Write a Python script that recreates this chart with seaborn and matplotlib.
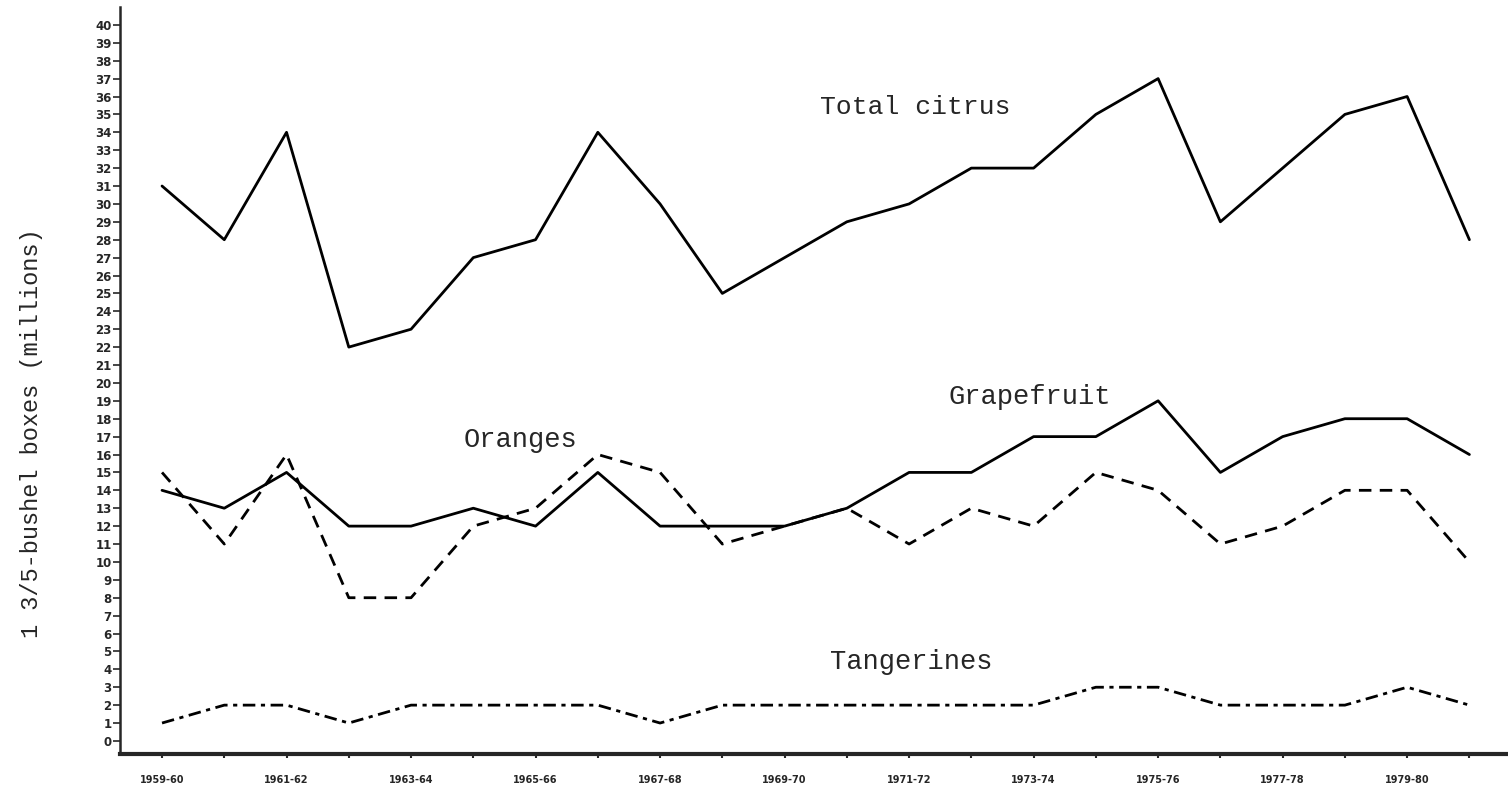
import numpy as np
import pandas as pd
import matplotlib
matplotlib.use("Agg")
import matplotlib.pyplot as plt
import seaborn as sns

seasons = ["1959-60", "1960-61", "1961-62", "1962-63", "1963-64", "1964-65",
           "1965-66", "1966-67", "1967-68", "1968-69", "1969-70", "1970-71",
           "1971-72", "1972-73", "1973-74", "1974-75", "1975-76", "1976-77",
           "1977-78", "1978-79", "1979-80", "1980-81"]
total_citrus = [31, 28, 34, 22, 23, 27, 28, 34, 30, 25, 27, 29, 30, 32, 32, 35, 37, 29, 32, 35, 36, 28]
grapefruit = [14, 13, 15, 12, 12, 13, 12, 15, 12, 12, 12, 13, 15, 15, 17, 17, 19, 15, 17, 18, 18, 16]
oranges = [15, 11, 16, 8, 8, 12, 13, 16, 15, 11, 12, 13, 11, 13, 12, 15, 14, 11, 12, 14, 14, 10]
tangerines = [1, 2, 2, 1, 2, 2, 2, 2, 1, 2, 2, 2, 2, 2, 2, 3, 3, 2, 2, 2, 3, 2]
y_ticks = list(range(0, 41))
ylabel = "1 3/5-bushel boxes (millions)"

sns.set_style("ticks")
plt.rcParams["font.family"] = ["DejaVu Sans"]

idx = np.arange(len(seasons))
df = pd.DataFrame({"i": idx, "Total citrus": total_citrus, "Grapefruit": grapefruit,
                   "Oranges": oranges, "Tangerines": tangerines})

fig = plt.figure(figsize=(15.08, 7.86), dpi=100)
ax = fig.add_axes([120 / 1508, 32 / 786, 1388 / 1508, 747 / 786])

sns.lineplot(data=df, x="i", y="Total citrus", ax=ax, color="black", lw=2.0)
sns.lineplot(data=df, x="i", y="Grapefruit", ax=ax, color="black", lw=2.0)
sns.lineplot(data=df, x="i", y="Oranges", ax=ax, color="black", lw=2.0,
             linestyle=(0, (4.5, 3)))
sns.lineplot(data=df, x="i", y="Tangerines", ax=ax, color="black", lw=2.0,
             linestyle=(0, (4.5, 2, 1.5, 2)))

ax.set_xlim(-0.675, 21.62)
ax.set_ylim(-0.73, 41.0)

ax.set_yticks(y_ticks)
ax.set_yticklabels([str(v) for v in y_ticks], fontsize=8.5, fontweight="bold",
                   family=["Liberation Sans Narrow", "DejaVu Sans"])
ax.set_xticks(idx)
ax.set_xticklabels([s if k % 2 == 0 else "" for k, s in enumerate(seasons)],
                   fontsize=7, fontweight="bold",
                   family=["Liberation Sans Narrow", "DejaVu Sans"])
ax.tick_params(axis="y", length=5, width=1.2, pad=1, direction="out")
ax.tick_params(axis="x", length=3, width=1.5, pad=12, direction="out")
ax.set_xlabel("")
ax.set_ylabel("")

for side in ["top", "right"]:
    ax.spines[side].set_visible(False)
ax.spines["left"].set_linewidth(1.8)
ax.spines["bottom"].set_linewidth(3.0)

mono = ["Liberation Mono", "DejaVu Sans Mono"]
ax.text(10.57, 35.4, "Total citrus", family=mono, fontsize=19, va="center", ha="left")
ax.text(12.63, 19.2, "Grapefruit", family=mono, fontsize=19.5, va="center", ha="left")
ax.text(4.84, 16.8, "Oranges", family=mono, fontsize=19.5, va="center", ha="left")
ax.text(10.73, 4.4, "Tangerines", family=mono, fontsize=19.5, va="center", ha="left")

fig.text(32 / 1508, 1 - 433 / 786, ylabel, family=mono, fontsize=17,
         rotation=90, va="center", ha="center")

fig.savefig("out.png", dpi=100)
